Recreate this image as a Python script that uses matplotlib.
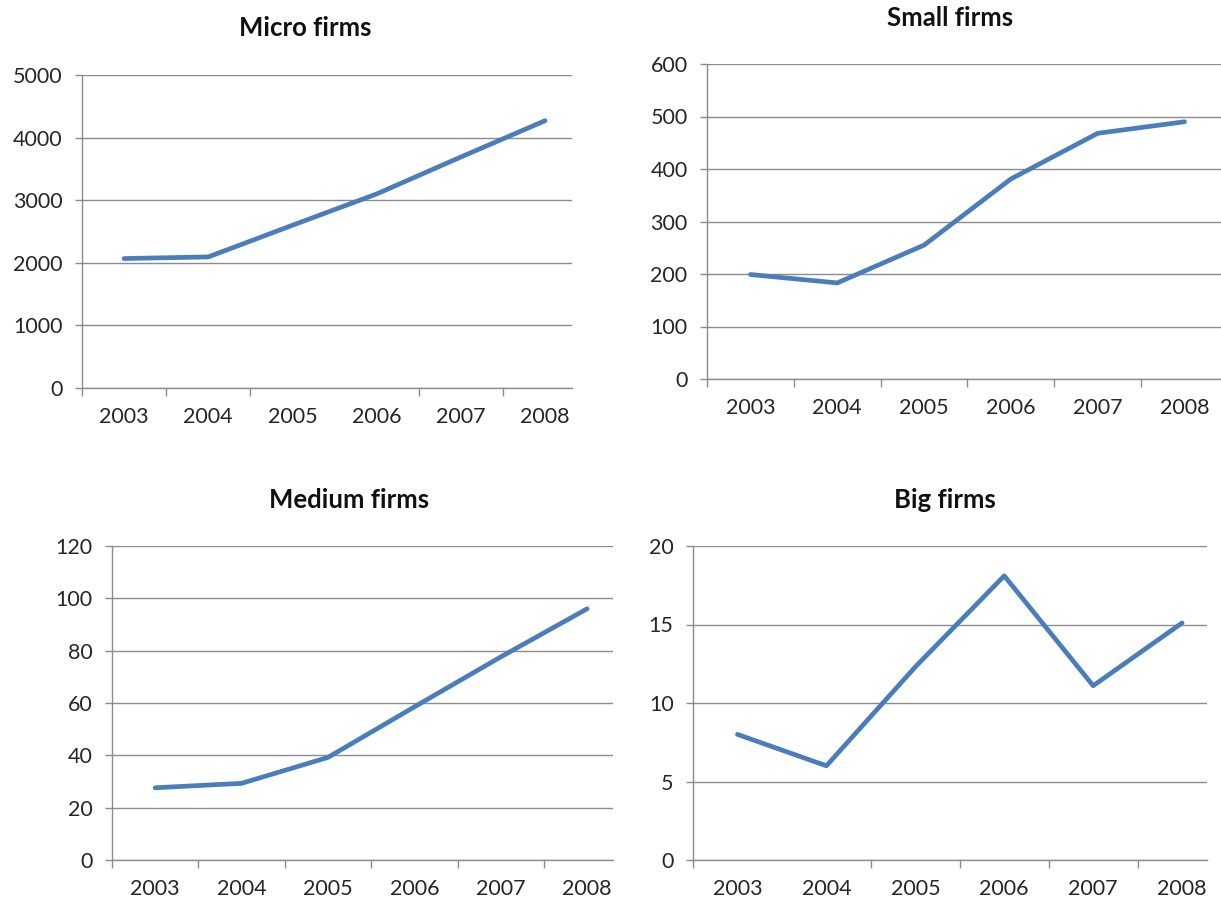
import matplotlib
matplotlib.use("Agg")
import matplotlib.pyplot as plt

YEARS = ["2003", "2004", "2005", "2006", "2007", "2008"]

MICRO = [2068, 2094, 2600, 3100, 3690, 4270]
SMALL = [199, 183, 255, 381, 468, 490]
MEDIUM = [27.6, 29.3, 39.2, 58.5, 77.6, 96]
BIG = [8.0, 6.0, 12.3, 18.1, 11.1, 15.1]

LINE_COLOR = "#4A7EBB"
GRID_COLOR = "#8C8C8C"
TEXT_COLOR = "#262626"

plt.rcParams["font.family"] = ["Lato", "DejaVu Sans"]

fig = plt.figure(figsize=(12.21, 9.09), dpi=100)


def panel(rect, values, yticks, xmax, tick_bounds, title, title_xy):
    ax = fig.add_axes(rect)
    x = list(range(len(YEARS)))
    ax.plot(x, values, color=LINE_COLOR, lw=3.4, solid_capstyle="round",
            solid_joinstyle="round", zorder=3)
    ax.set_xlim(-0.5, xmax)
    ax.set_ylim(yticks[0], yticks[-1])
    ax.set_yticks(yticks)
    ax.set_yticklabels([str(t) for t in yticks])
    # tick marks on category boundaries, labels in the middle
    ax.set_xticks(tick_bounds)
    ax.set_xticklabels([])
    ax.set_xticks(x, minor=True)
    ax.set_xticklabels(YEARS, minor=True)
    ax.tick_params(axis="x", which="major", direction="out", length=6,
                   width=1, color=GRID_COLOR)
    ax.tick_params(axis="x", which="minor", length=0, pad=14,
                   labelsize=15.5, labelcolor=TEXT_COLOR)
    ax.tick_params(axis="y", direction="out", length=5, width=1,
                   color=GRID_COLOR, pad=9, labelsize=15.5, labelcolor=TEXT_COLOR)
    ax.grid(axis="y", color=GRID_COLOR, lw=1, zorder=0)
    for side in ("top", "right"):
        ax.spines[side].set_visible(False)
    for side in ("left", "bottom"):
        ax.spines[side].set_color(GRID_COLOR)
        ax.spines[side].set_linewidth(1)
    ax.set_axisbelow(True)
    fig.text(title_xy[0] / 1221, 1 - title_xy[1] / 909, title,
             ha="center", va="center", fontsize=18.5, fontweight="bold",
             color="#111111")
    return ax


all_bounds = [-0.5, 0.5, 1.5, 2.5, 3.5, 4.5]

panel([82 / 1221, 1 - 388 / 909, 490 / 1221, 313 / 909], MICRO,
      [0, 1000, 2000, 3000, 4000, 5000], 5.32,
      [-0.5, 0.5, 1.5, 3.5, 4.5], "Micro firms", (305, 28))

panel([707 / 1221, 1 - 379 / 909, 514 / 1221, 315 / 909], SMALL,
      [0, 100, 200, 300, 400, 500, 600], 5.42,
      all_bounds, "Small firms", (950, 18))

panel([112 / 1221, 1 - 860 / 909, 501 / 1221, 314 / 909], MEDIUM,
      [0, 20, 40, 60, 80, 100, 120], 5.3,
      all_bounds, "Medium firms", (349, 500))

panel([693 / 1221, 1 - 860 / 909, 514 / 1221, 314 / 909], BIG,
      [0, 5, 10, 15, 20], 5.28,
      [-0.5, 1.5, 2.5, 3.5, 4.5], "Big firms", (945, 500))

fig.savefig("out.png", dpi=100)
